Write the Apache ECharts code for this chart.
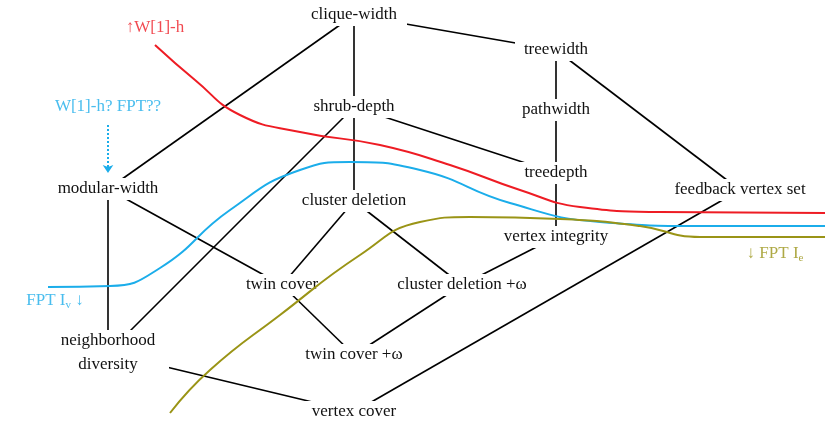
<!DOCTYPE html>
<html><head><meta charset="utf-8">
<script src="https://cdn.jsdelivr.net/npm/echarts@6/dist/echarts.min.js"></script>
<style>html,body{margin:0;background:#fff}#main{width:830px;height:428px}</style>
</head><body><div id="main"></div>
<script>
// parameters and their place in the diagram
var nodeNames = ['clique-width','treewidth','pathwidth','shrub-depth','treedepth','modular-width',
  'cluster deletion','feedback vertex set','vertex integrity','twin cover','cluster deletion +\u03c9',
  'neighborhood\ndiversity','twin cover +\u03c9','vertex cover'];
var nodeX = [354,556,556,354,556,108,354,740,556,282,462,108,354,354];
var nodeY = [15,50,110,107,173,189,201,190,237,285,285,353,355,412];
var edgeList = [
  ['clique-width','treewidth'],['clique-width','shrub-depth'],['clique-width','modular-width'],
  ['treewidth','pathwidth'],['treewidth','feedback vertex set'],['pathwidth','treedepth'],
  ['shrub-depth','treedepth'],['shrub-depth','cluster deletion'],['shrub-depth','neighborhood\ndiversity'],
  ['modular-width','twin cover'],['modular-width','neighborhood\ndiversity'],
  ['cluster deletion','twin cover'],['cluster deletion','cluster deletion +\u03c9'],
  ['treedepth','vertex integrity'],['vertex integrity','cluster deletion +\u03c9'],
  ['twin cover','twin cover +\u03c9'],['cluster deletion +\u03c9','twin cover +\u03c9'],
  ['feedback vertex set','vertex cover'],['neighborhood\ndiversity','vertex cover']
];
// complexity boundary curves
var redCurve = [[155,45],[195,80],[240,115],[300,132],[380,145],[450,165],[520,190],[580,207],[660,212],[825,213]];
var blueCurve = [[48,287],[110,286],[160,268],[230,210],[300,170],[350,162],[420,170],[510,203],[600,222],[700,226],[825,226]];
var oliveCurve = [[170,413],[210,370],[280,315],[360,255],[420,222],[470,217],[560,219],[640,226],[700,237],[825,237]];
var noteText = ['\u2191W[1]-h','W[1]-h? FPT??','FPT I{s|v} \u2193','\u2193 FPT I{s|e}'];
var noteX = [155,108,55,775];
var noteY = [28,107,301,254];
var noteColor = ['#ee1c24','#1badea','#1badea','#9a9416'];

var font = 'Liberation Serif';
var chart = echarts.init(document.getElementById('main'));
var nodes = nodeNames.map(function (n, i) {
  var two = n.indexOf('\n') >= 0;
  return { name: n, value: [nodeX[i], nodeY[i]],
    symbolSize: two ? [122, 46] : [n.length * 8 + 10, 22] };
});
chart.setOption({
  animation: false,
  grid: { left: 0, right: 0, top: 0, bottom: 0 },
  xAxis: { type: 'value', min: 0, max: 830, show: false },
  yAxis: { type: 'value', min: 0, max: 428, inverse: true, show: false },
  series: [
    { type: 'line', z: 6, data: redCurve, smooth: true, symbol: 'none', lineStyle: { color: '#ee1c24', width: 2 } },
    { type: 'line', z: 6, data: blueCurve, smooth: true, symbol: 'none', lineStyle: { color: '#1badea', width: 2 } },
    { type: 'line', z: 6, data: oliveCurve, smooth: true, symbol: 'none', lineStyle: { color: '#9a9416', width: 2 } },
    {
      type: 'graph', coordinateSystem: 'cartesian2d', z: 5,
      symbol: 'rect', itemStyle: { color: '#fff' },
      label: { show: true, position: 'inside', color: '#111', fontFamily: font, fontSize: 17, lineHeight: 24 },
      lineStyle: { color: '#000', width: 1.6, opacity: 1 },
      data: nodes,
      links: edgeList.map(function (e) { return { source: e[0], target: e[1] }; })
    },
    {
      type: 'scatter', symbolSize: 0, z: 7,
      data: noteText.map(function (t, i) {
        return { value: [noteX[i], noteY[i]], label: { formatter: t, color: noteColor[i] } };
      }),
      label: { show: true, position: 'inside', fontFamily: font, fontSize: 17,
        rich: { s: { fontFamily: font, fontSize: 11, verticalAlign: 'bottom', padding: [8, 0, 0, 0] } } },
      markLine: {
        silent: true, symbol: ['none', 'arrow'], symbolSize: 8, label: { show: false },
        lineStyle: { color: '#1badea', type: 'dotted', width: 2 },
        data: [[{ coord: [108, 125] }, { coord: [108, 173] }]]
      }
    }
  ]
});
</script></body></html>
